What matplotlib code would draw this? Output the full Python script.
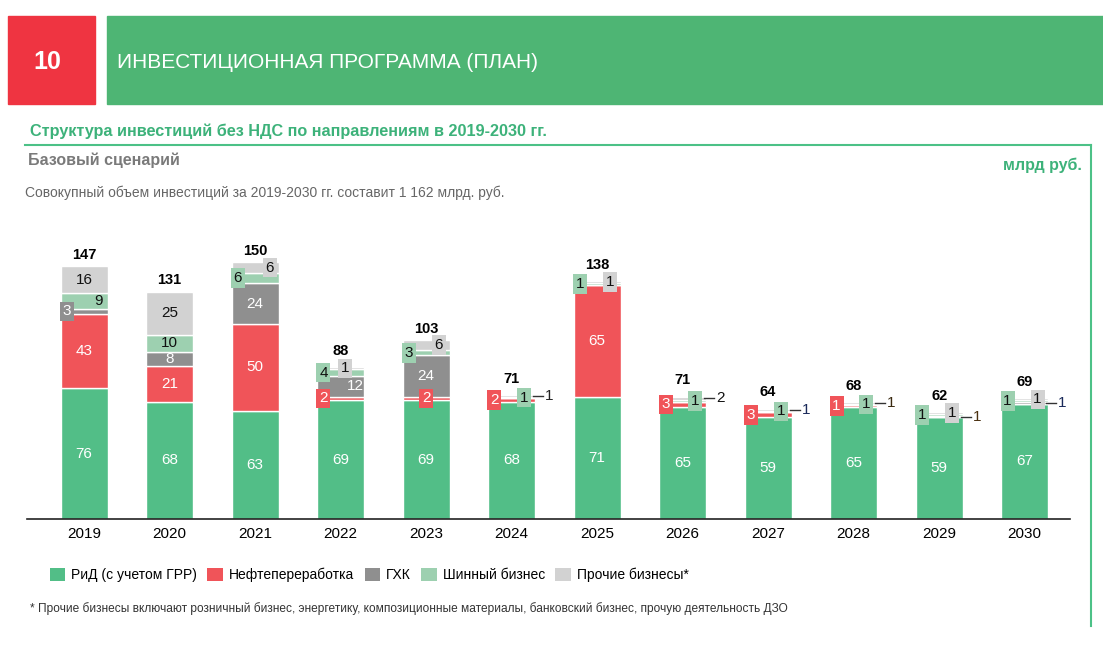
"""
Инвестиционная программа (план): структура инвестиций без НДС по направлениям, 2019-2030.
Stacked bars by business line with small boxed labels for thin segments.
"""

import matplotlib
matplotlib.use("Agg")
import matplotlib.pyplot as plt
from matplotlib.patches import Rectangle, Patch

plt.rcParams["font.family"] = ["Liberation Sans", "DejaVu Sans"]

years = ["2019", "2020", "2021", "2022", "2023", "2024",
         "2025", "2026", "2027", "2028", "2029", "2030"]
rid = [76, 68, 63, 69, 69, 68, 71, 65, 59, 65, 59, 67]
refining = [43, 21, 50, 2, 2, 2, 65, 3, 3, 1, 0, 0]
gkh = [3, 8, 24, 12, 24, 0, 0, 0, 0, 0, 1, 1]
tire = [9, 10, 6, 4, 3, 1, 1, 1, 1, 1, 1, 1]
other = [16, 25, 6, 1, 6, 1, 1, 2, 1, 1, 1, 1]
totals = [147, 131, 150, 88, 103, 71, 138, 71, 64, 68, 62, 69]

series_names = ["РиД (с учетом ГРР)", "Нефтепереработка", "ГХК", "Шинный бизнес", "Прочие бизнесы*"]
series = [rid, refining, gkh, tire, other]
colors = ["#52BE87", "#F05459", "#8F8F8F", "#9DD0B0", "#D2D2D2"]
text_colors = ["white", "white", "white", "#111111", "#111111"]

# label placement for thin segments: (year index, series index) -> (mode, x offset)
# series idx: 0 rid, 1 refining, 2 gkh, 3 tire, 4 other
special = {
    (0, 2): ("box", -0.2), (0, 3): ("txt", 0.17),
    (2, 3): ("box", -0.2), (2, 4): ("box", 0.17),
    (3, 1): ("box", -0.2), (3, 2): ("txt", 0.17), (3, 3): ("box", -0.2), (3, 4): ("box", 0.05),
    (4, 1): ("box", 0.0), (4, 3): ("box", -0.2), (4, 4): ("box", 0.15),
    (5, 1): ("box", -0.2), (5, 3): ("box", 0.15), (5, 4): ("lead", 0),
    (6, 3): ("box", -0.2), (6, 4): ("box", 0.15),
    (7, 1): ("box", -0.2), (7, 3): ("box", 0.15), (7, 4): ("lead", 0),
    (8, 1): ("box", -0.2), (8, 3): ("box", 0.15), (8, 4): ("lead", 0),
    (9, 1): ("box", -0.2), (9, 3): ("box", 0.15), (9, 4): ("lead", 0),
    (10, 3): ("box", -0.2), (10, 4): ("box", 0.15), (10, 2): ("lead", 0),
    (11, 3): ("box", -0.2), (11, 4): ("box", 0.15), (11, 2): ("lead", 0),
}
lead_colors = {5: "#222222", 7: "#111111", 8: "#1a2a5a", 9: "#3a2a10", 10: "#4a3010", 11: "#1a2a5a"}

GREEN = "#4EB574"
W, H = 1103, 649

fig = plt.figure(figsize=(W / 100, H / 100), dpi=100, facecolor="white")


def fx(px):
    return px / W


def fy(py):
    return 1 - py / H


# header blocks
fig.patches.append(Rectangle((fx(8), fy(104)), fx(87), 88 / H, transform=fig.transFigure,
                             color="#EF3441", zorder=0))
fig.patches.append(Rectangle((fx(107), fy(104)), fx(996), 88 / H, transform=fig.transFigure,
                             color=GREEN, zorder=0))
fig.text(fx(47), fy(62), "10", color="white", fontsize=18, fontweight="bold",
         ha="center", va="center")
fig.text(fx(117), fy(62), "ИНВЕСТИЦИОННАЯ ПРОГРАММА (ПЛАН)", color="white",
         fontsize=15, ha="left", va="center")

# subtitle frame
fig.lines.append(plt.Line2D([fx(25), fx(1091)], [fy(145), fy(145)], transform=fig.transFigure,
                            color="#4CC187", lw=1.5))
fig.lines.append(plt.Line2D([fx(1091), fx(1091)], [fy(145), fy(626)], transform=fig.transFigure,
                            color="#4CC187", lw=1.5))
fig.text(fx(30), fy(131), "Структура инвестиций без НДС по направлениям в 2019-2030 гг.",
         color="#3DB27A", fontsize=11.7, fontweight="bold", ha="left", va="center")
fig.text(fx(28), fy(160), "Базовый сценарий", color="#7A7A7A", fontsize=11.5,
         fontweight="bold", ha="left", va="center")
fig.text(fx(1082), fy(165), "млрд руб.", color="#3DB27A", fontsize=11.5,
         fontweight="bold", ha="right", va="center")
fig.text(fx(25), fy(193), "Совокупный объем инвестиций за 2019-2030 гг. составит 1 162 млрд. руб.",
         color="#666666", fontsize=10, ha="left", va="center")

# chart
ax = fig.add_axes([fx(27), fy(519), fx(1043), 279 / H])
x = list(range(len(years)))
bw = 0.55
bottom = [0] * len(years)
for si, vals in enumerate(series):
    ax.bar(x, vals, bw, bottom=bottom, color=colors[si], edgecolor="white", linewidth=1,
           zorder=2)
    for i, v in enumerate(vals):
        if v <= 0:
            continue
        yc = bottom[i] + v / 2
        mode = special.get((i, si), ("txt", 0.0) if v >= 8 else None)
        if mode is None:
            continue
        kind, dx = mode
        if kind == "lead":
            ax.plot([i + bw / 2 - 0.02, i + 0.37], [yc, yc], color="#333333", lw=1, zorder=3,
                    clip_on=False)
            ax.text(i + 0.39, yc, str(v), color=lead_colors.get(i, "#111111"), fontsize=11,
                    ha="left", va="center", zorder=4)
        elif kind == "box":
            ax.text(i + dx, yc, str(v), color=text_colors[si], fontsize=11, ha="center",
                    va="center", zorder=4,
                    bbox=dict(boxstyle="square,pad=0.18", facecolor=colors[si], edgecolor="none"))
        else:
            ax.text(i + dx, yc, str(v), color=text_colors[si], fontsize=11, ha="center",
                    va="center", zorder=4)
    bottom = [b + v for b, v in zip(bottom, vals)]

# totals sit higher when the top segment carries a boxed label
for i, t in enumerate(totals):
    top_small = other[i] <= 2
    off = 9.5 if top_small else 6.5
    ax.text(i, bottom[i] + off, str(t), fontsize=10.5, fontweight="bold", ha="center",
            va="center", color="black")

ax.set_xlim(-0.667, 11.53)
ax.set_ylim(0, 162)
ax.set_xticks(x)
ax.set_xticklabels(years, fontsize=11)
ax.tick_params(axis="x", length=0, pad=6)
ax.set_yticks([])
for s in ["top", "right", "left"]:
    ax.spines[s].set_visible(False)
ax.spines["bottom"].set_color("#222222")
ax.spines["bottom"].set_linewidth(1.2)
ax.set_facecolor("none")

handles = [Patch(facecolor=c, edgecolor="none") for c in colors]
fig.legend(handles, series_names, loc="center left", bbox_to_anchor=(fx(37), fy(575)),
           ncol=5, frameon=False, fontsize=10, handlelength=1.15, handleheight=1.15,
           handletextpad=0.4, columnspacing=0.75)

fig.text(fx(30), fy(609), "* Прочие бизнесы включают розничный бизнес, энергетику, композиционные "
         "материалы, банковский бизнес, прочую деятельность ДЗО",
         fontsize=8.6, color="#333333", ha="left", va="center")

fig.savefig("out.png", dpi=100, facecolor="white")
